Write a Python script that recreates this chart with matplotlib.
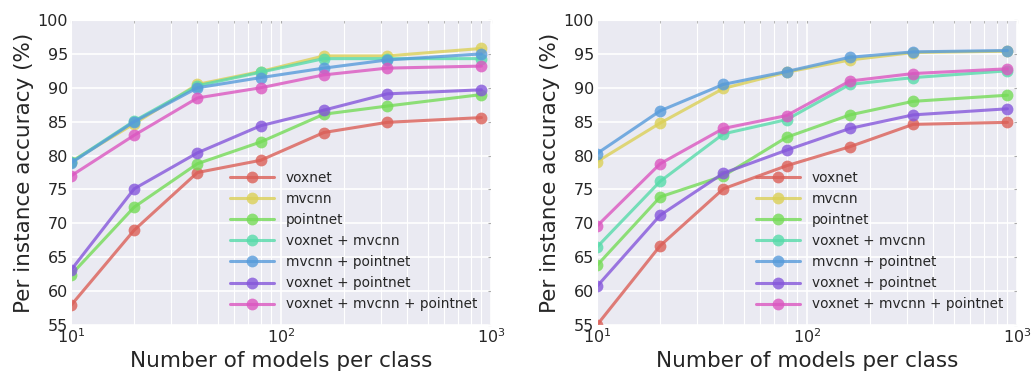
import numpy as np
import matplotlib
matplotlib.use("Agg")
import matplotlib.pyplot as plt
import seaborn as sns

sns.set_style("darkgrid")
plt.rcParams['font.family'] = ['DejaVu Sans']

# training set sizes (models per class)
n_models = [10, 20, 40, 80, 160, 320, 900]

labels = ["voxnet", "mvcnn", "pointnet", "voxnet + mvcnn",
          "mvcnn + pointnet", "voxnet + pointnet",
          "voxnet + mvcnn + pointnet"]

# left panel
left_voxnet = [57.9, 69.0, 77.5, 79.3, 83.4, 84.9, 85.6]
left_mvcnn = [79.1, 84.7, 90.5, 92.4, 94.7, 94.7, 95.8]
left_pointnet = [62.4, 72.4, 78.8, 82.0, 86.1, 87.3, 89.0]
left_vox_mv = [79.0, 85.1, 90.3, 92.3, 94.3, 94.3, 94.3]
left_mv_pt = [78.9, 85.0, 90.0, 91.5, 92.9, 94.1, 95.0]
left_vox_pt = [63.1, 75.1, 80.4, 84.4, 86.7, 89.1, 89.7]
left_all = [77.0, 83.0, 88.5, 90.0, 91.9, 92.9, 93.2]

# right panel
right_voxnet = [55.0, 66.7, 75.1, 78.5, 81.3, 84.6, 84.9]
right_mvcnn = [79.1, 84.8, 89.9, 92.3, 94.1, 95.2, 95.4]
right_pointnet = [63.8, 73.9, 77.0, 82.7, 86.0, 88.0, 88.9]
right_vox_mv = [66.5, 76.2, 83.2, 85.3, 90.5, 91.5, 92.5]
right_mv_pt = [80.3, 86.6, 90.5, 92.4, 94.5, 95.3, 95.5]
right_vox_pt = [60.7, 71.2, 77.4, 80.8, 84.0, 86.0, 86.9]
right_all = [69.6, 78.8, 84.0, 85.9, 91.0, 92.1, 92.8]

left_series = [left_voxnet, left_mvcnn, left_pointnet, left_vox_mv,
               left_mv_pt, left_vox_pt, left_all]
right_series = [right_voxnet, right_mvcnn, right_pointnet, right_vox_mv,
                right_mv_pt, right_vox_pt, right_all]

colors = sns.color_palette("hls", 7)

fig = plt.figure(figsize=(10.31, 3.75), dpi=100)
ax_l = fig.add_axes([71 / 1031, 50 / 375, 420 / 1031, 305 / 375])
ax_r = fig.add_axes([597 / 1031, 50 / 375, 420 / 1031, 305 / 375])


def draw_panel(ax, series):
    for ys, lab, c in zip(series, labels, colors):
        ax.plot(n_models, ys, "-o", color=c, label=lab, lw=2.2, ms=8.5,
                alpha=0.8, markeredgewidth=0)
    ax.set_xscale("log")
    ax.set_xlim(10, 1000)
    ax.set_ylim(55, 100)
    ax.set_yticks(np.arange(55, 101, 5))
    ax.grid(True, which="major", color="white", lw=1.2)
    ax.grid(True, which="minor", axis="x", color="white", lw=0.8)
    ax.tick_params(which="both", direction="in", length=2, color="#aaaaaa",
                   labelsize=11.5, labelcolor="#262626", pad=2,
                   top=True, right=True)
    ax.set_xlabel("Number of models per class", fontsize=15.5, color="#262626",
                  labelpad=3)
    ax.set_ylabel("Per instance accuracy (%)", fontsize=15.5, color="#262626",
                  labelpad=3)
    ax.legend(loc="lower right", frameon=False, fontsize=9.8,
              handlelength=3.2, handletextpad=0.9, labelspacing=0.52,
              borderaxespad=0.6)


draw_panel(ax_l, left_series)
draw_panel(ax_r, right_series)

fig.savefig("out.png", dpi=100)
